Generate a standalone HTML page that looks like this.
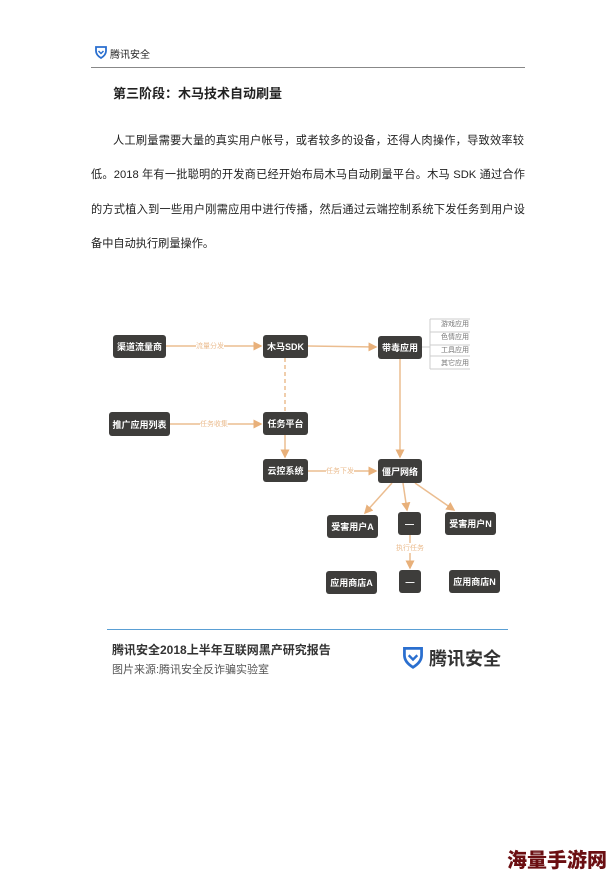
<!DOCTYPE html>
<html><head><meta charset="utf-8"><style>
body{margin:0;width:616px;height:874px;background:#fff;position:relative;overflow:hidden;font-family:"Liberation Sans","Noto Sans CJK SC",sans-serif;color:#222}
.a{position:absolute;white-space:nowrap}
.b{position:absolute;background:#3e3d3b;color:#fff;border-radius:3px;font-size:9px;font-weight:bold;display:flex;align-items:center;justify-content:center}
.p{font-size:11.2px;left:91px;width:434px;color:#222;text-align:justify;text-align-last:justify;white-space:normal;overflow:hidden;height:18px}
</style></head><body>
<svg class="a" style="left:94px;top:45px" width="14" height="14" viewBox="0 0 14 14"><path d="M2 2 L12 2 L12 6 Q12 10 7 13 Q2 10 2 6 Z" fill="none" stroke="#2a6fcf" stroke-width="1.8"/><path d="M4.5 6 L7 8.5 L9.5 6" fill="none" stroke="#2a6fcf" stroke-width="1.5"/></svg>
<div class="a" style="left:110px;top:46px;font-size:10px">腾讯安全</div>
<div class="a" style="left:91px;top:67px;width:434px;height:1px;background:#888"></div>
<div class="a" style="left:113px;top:83px;font-size:13px;font-weight:bold">第三阶段：木马技术自动刷量</div>
<div class="a p" style="left:113px;width:411px;top:132px">人工刷量需要大量的真实用户帐号，或者较多的设备，还得人肉操作，导致效率较</div>
<div class="a p" style="top:166px">低。2018 年有一批聪明的开发商已经开始布局木马自动刷量平台。木马 SDK 通过合作</div>
<div class="a p" style="top:201px">的方式植入到一些用户刚需应用中进行传播，然后通过云端控制系统下发任务到用户设</div>
<div class="a p" style="top:235px;width:auto;text-align:left;text-align-last:left">备中自动执行刷量操作。</div>

<svg class="a" style="left:0;top:0" width="616" height="874">
<defs><marker id="m" markerWidth="6" markerHeight="6" refX="5" refY="3" orient="auto"><path d="M0 0 L6 3 L0 6 Z" fill="#e8b07a"/></marker></defs>
<g stroke="#ebbd90" stroke-width="1.5" fill="none">
<line x1="166" y1="346" x2="261" y2="346" marker-end="url(#m)"/>
<line x1="308" y1="346" x2="376" y2="347" marker-end="url(#m)"/>
<line x1="170" y1="424" x2="261" y2="424" marker-end="url(#m)"/>
<line x1="285" y1="358" x2="285" y2="412" stroke-dasharray="4,3"/>
<line x1="285" y1="435" x2="285" y2="457" marker-end="url(#m)"/>
<line x1="308" y1="471" x2="376" y2="471" marker-end="url(#m)"/>
<line x1="400" y1="359" x2="400" y2="457" marker-end="url(#m)"/>
<line x1="392" y1="483" x2="365" y2="513" marker-end="url(#m)"/>
<line x1="403" y1="483" x2="407" y2="510" marker-end="url(#m)"/>
<line x1="415" y1="483" x2="454" y2="510" marker-end="url(#m)"/>
<line x1="410" y1="535" x2="410" y2="568" marker-end="url(#m)"/>
</g>
<g stroke="#ccc" stroke-width="1" fill="none">
<line x1="422" y1="347" x2="430" y2="347"/><line x1="430" y1="319" x2="430" y2="369"/>
<line x1="430" y1="319" x2="470" y2="319"/><line x1="430" y1="332" x2="470" y2="332"/>
<line x1="430" y1="345" x2="470" y2="345"/><line x1="430" y1="356" x2="470" y2="356"/><line x1="430" y1="369" x2="470" y2="369"/>
</g>
</svg>
<div class="a" style="left:196px;top:341px;font-size:7px;color:#ebbd90;background:#fff">流量分发</div>
<div class="a" style="left:200px;top:419px;font-size:7px;color:#ebbd90;background:#fff">任务收集</div>
<div class="a" style="left:326px;top:466px;font-size:7px;color:#ebbd90;background:#fff">任务下发</div>
<div class="a" style="left:396px;top:543px;font-size:7px;color:#ebbd90;background:#fff">执行任务</div>
<div class="a" style="left:441px;top:319px;font-size:7px;color:#777">游戏应用</div>
<div class="a" style="left:441px;top:332px;font-size:7px;color:#777">色情应用</div>
<div class="a" style="left:441px;top:345px;font-size:7px;color:#777">工具应用</div>
<div class="a" style="left:441px;top:358px;font-size:7px;color:#777">其它应用</div>

<div class="b" style="left:113px;top:335px;width:53px;height:23px">渠道流量商</div>
<div class="b" style="left:263px;top:335px;width:45px;height:23px">木马SDK</div>
<div class="b" style="left:378px;top:336px;width:44px;height:23px">带毒应用</div>
<div class="b" style="left:109px;top:412px;width:61px;height:24px">推广应用列表</div>
<div class="b" style="left:263px;top:412px;width:45px;height:23px">任务平台</div>
<div class="b" style="left:263px;top:459px;width:45px;height:23px">云控系统</div>
<div class="b" style="left:378px;top:459px;width:44px;height:24px">僵尸网络</div>
<div class="b" style="left:327px;top:515px;width:51px;height:23px">受害用户A</div>
<div class="b" style="left:398px;top:512px;width:23px;height:23px">—</div>
<div class="b" style="left:445px;top:512px;width:51px;height:23px">受害用户N</div>
<div class="b" style="left:326px;top:571px;width:51px;height:23px">应用商店A</div>
<div class="b" style="left:399px;top:570px;width:22px;height:23px">—</div>
<div class="b" style="left:449px;top:570px;width:51px;height:23px">应用商店N</div>

<div class="a" style="left:107px;top:629px;width:401px;height:1px;background:#5a9fd4"></div>
<div class="a" style="left:112px;top:641px;font-size:12px;font-weight:bold;color:#333">腾讯安全2018上半年互联网黑产研究报告</div>
<div class="a" style="left:112px;top:661px;font-size:11px;color:#555">图片来源:腾讯安全反诈骗实验室</div>
<svg class="a" style="left:401px;top:645px" width="24" height="24" viewBox="0 0 14 14"><path d="M2 2 L12 2 L12 6 Q12 10 7 13 Q2 10 2 6 Z" fill="none" stroke="#2a6fcf" stroke-width="1.6"/><path d="M4.5 6 L7 8.5 L9.5 6" fill="none" stroke="#2a6fcf" stroke-width="1.4"/></svg>
<div class="a" style="left:429px;top:645px;font-size:18px;font-weight:bold;color:#333">腾讯安全</div>
<div class="a" style="left:507px;top:844px;font-size:20px;font-weight:900;color:#6b0f12">海量手游网</div>
</body></html>
